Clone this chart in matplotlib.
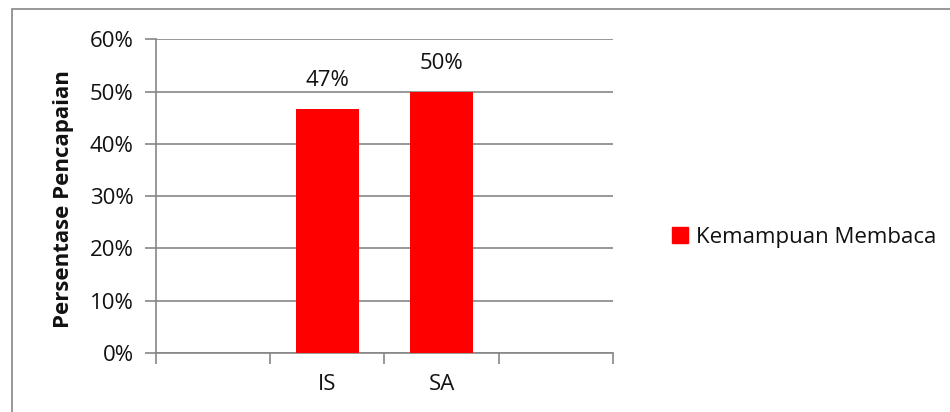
import matplotlib
matplotlib.use('Agg')
import matplotlib.pyplot as plt
from matplotlib.patches import Rectangle, Patch

categories = ['', 'IS', 'SA', '']
values = [None, 0.467, 0.50, None]
labels = ['', '47%', '50%', '']
series_name = 'Kemampuan Membaca'
yticks = [0, 0.1, 0.2, 0.3, 0.4, 0.5, 0.6]

plt.rcParams['font.family'] = ['Open Sans', 'DejaVu Sans']
grid_col = '#868686'
txt_col = '#111111'
fs = 16

fig = plt.figure(figsize=(9.5, 4.12), dpi=100)
W, H = 950, 412
ax = fig.add_axes([156 / W, 1 - 353 / H, (613 - 156) / W, (353 - 39.5) / H])

# chart border (cropped at right/bottom)
fig.patches.append(Rectangle((11.5 / W, -0.1), 1.2, 1 - 9.5 / H + 0.1,
                             transform=fig.transFigure, fill=False,
                             edgecolor=grid_col, linewidth=1.2))

xs = [i + 0.5 for i in range(len(categories))]
for x, v, lab in zip(xs, values, labels):
    if v is None:
        continue
    ax.bar(x, v, width=0.545, color='#ff0000', zorder=3)
    ax.text(x, v + 0.034, lab, ha='center', va='bottom', fontsize=fs, color=txt_col)

ax.set_xlim(0, len(categories))
ax.set_ylim(0, 0.6)
ax.set_yticks(yticks)
ax.set_yticklabels(['{:.0f}%'.format(t * 100) for t in yticks], fontsize=fs, color=txt_col)
ax.set_xticks(range(len(categories) + 1))
ax.set_xticklabels([])
ax.set_xticks(xs, minor=True)
ax.set_xticklabels(categories, minor=True, fontsize=fs, color=txt_col)
ax.tick_params(axis='x', which='minor', length=0, pad=15)
ax.tick_params(axis='both', which='major', length=8, width=1.2, color=grid_col)
ax.tick_params(axis='y', pad=8)

ax.grid(axis='y', color=grid_col, linewidth=1.2, zorder=0)
for s in ['top', 'right']:
    ax.spines[s].set_visible(False)
for s in ['left', 'bottom']:
    ax.spines[s].set_color(grid_col)
    ax.spines[s].set_linewidth(1.2)

fig.text(63 / W, 1 - 199 / H, 'Persentase Pencapaian', rotation=90,
         ha='center', va='center', fontsize=fs, fontweight='bold', color=txt_col)

fig.legend(handles=[Patch(color='#ff0000', label=series_name)],
           loc='center left', bbox_to_anchor=(652 / W, 1 - 237 / H),
           frameon=False, fontsize=fs, handlelength=0.7, handleheight=0.7,
           handletextpad=0.4, labelcolor=txt_col)

fig.savefig('out.png', dpi=100)
